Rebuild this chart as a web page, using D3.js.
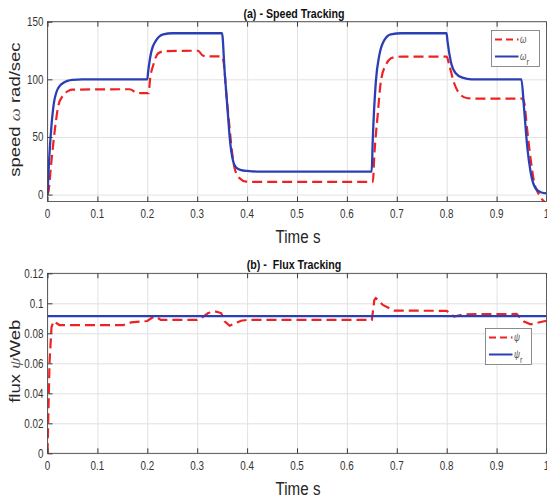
<!DOCTYPE html>
<html>
<head>
<meta charset="utf-8">
<script src="https://cdn.jsdelivr.net/npm/d3@7"></script>
<style>
  html, body { margin: 0; padding: 0; background: #fff; overflow: hidden; }
  text { font-family: "Liberation Sans", Arial, Helvetica, sans-serif; white-space: pre; }
</style>
</head>
<body>
<svg id="fig" width="547" height="499"></svg>
<script>
// ---- data -------------------------------------------------------------
const timeTicks = [0, 0.1, 0.2, 0.3, 0.4, 0.5, 0.6, 0.7, 0.8, 0.9, 1];
const speedTicks = [0, 50, 100, 150];
const fluxTicks = [0, 0.02, 0.04, 0.06, 0.08, 0.1, 0.12];

// reference speed ω_r  [time s, rad/sec]
const speedRef = [
  [0, 0], [0.003, 28], [0.008, 60], [0.013, 80], [0.018, 89], [0.025, 94.5],
  [0.032, 97], [0.04, 98.7], [0.05, 99.6], [0.07, 100], [0.2, 100],
  [0.2017, 106.6], [0.208, 124], [0.218, 134], [0.232, 139], [0.25, 140],
  [0.3497, 140], [0.355, 106.6], [0.3617, 69], [0.365, 50], [0.372, 29],
  [0.378, 23.5], [0.388, 21.2], [0.4, 20.5], [0.42, 20], [0.6497, 20],
  [0.6517, 46], [0.658, 98], [0.665, 121], [0.675, 134], [0.688, 139],
  [0.71, 140], [0.7997, 140], [0.8017, 132.7], [0.8083, 115.3], [0.818, 105.3],
  [0.8317, 101.5], [0.85, 100], [0.9497, 100], [0.955, 74.9], [0.9617, 40.2],
  [0.968, 20], [0.978, 5.5], [0.99, 1.8], [1.0, 1.0]
];

// measured speed ω  [time s, rad/sec]
const speedActual = [
  [0, 0], [0.002, 2.6], [0.007, 25], [0.012, 46], [0.017, 64], [0.022, 77.8],
  [0.032, 86.4], [0.042, 90], [0.05, 91], [0.165, 91.4], [0.175, 89],
  [0.182, 88], [0.203, 88], [0.205, 98], [0.212, 112.5], [0.222, 122.6],
  [0.235, 124.5], [0.302, 124.8], [0.31, 121], [0.318, 120], [0.35, 119.8],
  [0.3537, 112.5], [0.358, 89.3], [0.3637, 63.3], [0.3697, 37.3], [0.375, 22.9],
  [0.385, 14.2], [0.398, 11.3], [0.41, 11], [0.652, 11], [0.655, 34.4],
  [0.6617, 69], [0.668, 98], [0.678, 112.5], [0.6917, 118.8], [0.71, 119.7],
  [0.8, 119.7], [0.805, 112.5], [0.815, 96.6], [0.825, 87.9], [0.8417, 83.6],
  [0.86, 83.3], [0.952, 83.3], [0.955, 80.6], [0.9617, 54.6], [0.968, 31.5],
  [0.975, 11.3], [0.985, 0], [0.995, -6], [1.0, -8]
];

// reference flux ψ_r  [time s, Web]
const fluxRef = [[0, 0.0915], [1, 0.0915]];

// estimated flux ψ  [time s, Web]
const fluxActual = [
  [0, 0], [0.004, 0.06], [0.008, 0.084], [0.012, 0.088], [0.024, 0.0855],
  [0.152, 0.0855], [0.168, 0.0873], [0.2, 0.0882], [0.21, 0.0905], [0.218, 0.091],
  [0.227, 0.0889], [0.3, 0.0889], [0.308, 0.0902], [0.322, 0.0935], [0.335, 0.0947],
  [0.348, 0.0935], [0.355, 0.0879], [0.365, 0.085], [0.388, 0.0884], [0.4, 0.0889],
  [0.65, 0.0889], [0.655, 0.1022], [0.658, 0.1035], [0.672, 0.0989], [0.695, 0.0951],
  [0.8, 0.095], [0.815, 0.0911], [0.835, 0.0927], [0.94, 0.0929], [0.955, 0.0878],
  [0.968, 0.086], [1.0, 0.0884]
];

// ---- styling ----------------------------------------------------------
const RED = "#ee2222";
const BLUE = "#2b3fb5";
const AXIS = "#3a3a3a";
const GRID = "#e2e2e2";
const SQ = 0.82;           // condensed text width

const svg = d3.select("#fig");
const left = 47.5, right = 546.5;

const x = d3.scaleLinear().domain([0, 1]).range([left, right]);

function label(g, txt, px, py, opts) {
  const t = g.append("text")
    .attr("transform", `translate(${px},${py}) scale(${SQ},1)` + (opts.rotate ? " rotate(-90)" : ""))
    .attr("text-anchor", opts.anchor || "middle")
    .attr("font-size", opts.size)
    .attr("font-weight", opts.weight || "normal")
    .attr("fill", opts.fill || "#262626");
  if (Array.isArray(txt)) {
    txt.forEach(p => {
      const s = t.append("tspan").text(p.t);
      if (p.italic) s.attr("font-style", "italic").attr("font-family", "'Liberation Serif', serif");
      if (p.fill) s.attr("fill", p.fill);
    });
  } else t.text(txt);
  return t;
}

const fmt = v => String(+v.toFixed(2));

function panel(cfg) {
  const g = svg.append("g");
  const y = d3.scaleLinear().domain(cfg.yDomain).range([cfg.bottom, cfg.top]);
  const clipId = "clip-" + cfg.id;
  svg.append("clipPath").attr("id", clipId).append("rect")
    .attr("x", left).attr("y", cfg.top).attr("width", right - left).attr("height", cfg.bottom - cfg.top);

  // white plot background
  g.append("rect").attr("x", left).attr("y", cfg.top)
    .attr("width", right - left).attr("height", cfg.bottom - cfg.top).attr("fill", "#fff");

  // grid
  const gx = d3.axisBottom(x).tickValues(timeTicks).tickSize(-(cfg.bottom - cfg.top)).tickFormat("");
  g.append("g").attr("transform", `translate(0,${cfg.bottom})`).call(gx)
    .call(s => s.select(".domain").remove())
    .call(s => s.selectAll("line").attr("stroke", GRID).attr("stroke-width", 1));
  const gy = d3.axisLeft(y).tickValues(cfg.yTicks).tickSize(-(right - left)).tickFormat("");
  g.append("g").attr("transform", `translate(${left},0)`).call(gy)
    .call(s => s.select(".domain").remove())
    .call(s => s.selectAll("line").attr("stroke", GRID).attr("stroke-width", 1));

  // series
  const lineGen = curve => d3.line().x(d => x(d[0])).y(d => y(d[1])).curve(curve);
  const lines = g.append("g").attr("clip-path", `url(#${clipId})`);
  lines.append("path").datum(cfg.actual)
    .attr("d", lineGen(cfg.actualCurve)).attr("fill", "none")
    .attr("stroke", RED).attr("stroke-width", 2.2).attr("stroke-dasharray", "10,5");
  lines.append("path").datum(cfg.ref)
    .attr("d", lineGen(cfg.refCurve)).attr("fill", "none")
    .attr("stroke", BLUE).attr("stroke-width", 2.3);

  // axes (inward ticks, boxed)
  const ax = d3.axisBottom(x).tickValues(timeTicks).tickSize(-5).tickFormat("");
  g.append("g").attr("transform", `translate(0,${cfg.bottom})`).call(ax)
    .call(s => s.select(".domain").remove())
    .call(s => s.selectAll("line").attr("stroke", AXIS));
  const axTop = d3.axisTop(x).tickValues(timeTicks).tickSize(-5).tickFormat("");
  g.append("g").attr("transform", `translate(0,${cfg.top})`).call(axTop)
    .call(s => s.select(".domain").remove())
    .call(s => s.selectAll("line").attr("stroke", AXIS));
  const ay = d3.axisLeft(y).tickValues(cfg.yTicks).tickSize(-5).tickFormat("");
  g.append("g").attr("transform", `translate(${left},0)`).call(ay)
    .call(s => s.select(".domain").remove())
    .call(s => s.selectAll("line").attr("stroke", AXIS));
  g.append("rect").attr("x", left).attr("y", cfg.top)
    .attr("width", right - left).attr("height", cfg.bottom - cfg.top)
    .attr("fill", "none").attr("stroke", AXIS).attr("stroke-width", 0.8);

  // tick labels
  timeTicks.forEach(t => label(g, fmt(t), x(t), cfg.bottom + 16.5, { size: 12, fill: "#333" }));
  cfg.yTicks.forEach(v => label(g, fmt(v), left - 4, y(v) + 4.3, { size: 12, anchor: "end", fill: "#333" }));

  // titles and axis labels
  label(g, cfg.title, 294, cfg.top - 4, { size: 13, weight: "bold", fill: "#111" });
  label(g, "Time s", 298, cfg.bottom + 41.5, { size: 18.5, fill: "#262626" });
  label(g, cfg.ylabel, 20, (cfg.top + cfg.bottom) / 2 - 2, { size: 18.5, rotate: true, fill: "#262626" });

  // legend
  const L = cfg.legend;
  g.append("rect").attr("x", L.x).attr("y", L.y).attr("width", L.w).attr("height", L.h)
    .attr("fill", "#fff").attr("stroke", "#707070").attr("stroke-width", 0.8);
  const rows = [
    { color: RED, dash: "7,4", sym: cfg.sym, sub: null },
    { color: BLUE, dash: null, sym: cfg.sym, sub: "r" }
  ];
  rows.forEach((r, i) => {
    const ly = L.y + 9 + i * 17;
    const ln = g.append("line").attr("x1", L.x + 3.5).attr("x2", L.x + 27)
      .attr("y1", ly).attr("y2", ly).attr("stroke", r.color).attr("stroke-width", 2);
    if (r.dash) ln.attr("stroke-dasharray", r.dash);
    const tx = g.append("text")
      .attr("transform", `translate(${L.x + 28.5},${ly + 3}) scale(${SQ},1)`)
      .attr("font-size", 10).attr("fill", "#555")
      .attr("font-family", "'Liberation Serif', serif").attr("font-style", "italic");
    tx.append("tspan").text(r.sym);
    if (r.sub) tx.append("tspan").attr("dy", 5).attr("font-size", 9)
      .attr("font-style", "normal").attr("font-family", "'Liberation Sans', sans-serif").text(r.sub);
  });
}

panel({
  id: "speed", top: 21.7, bottom: 201.5, yDomain: [-6, 150], yTicks: speedTicks,
  ref: speedRef, actual: speedActual,
  refCurve: d3.curveMonotoneX, actualCurve: d3.curveMonotoneX,
  title: "(a) - Speed Tracking",
  ylabel: [{ t: "speed " }, { t: "ω", italic: true, fill: "#555" }, { t: " rad/sec" }],
  sym: "ω",
  legend: { x: 491.5, y: 30.5, w: 48, h: 36 }
});

panel({
  id: "flux", top: 273.3, bottom: 453.3, yDomain: [0, 0.12], yTicks: fluxTicks,
  ref: fluxRef, actual: fluxActual,
  refCurve: d3.curveLinear, actualCurve: d3.curveLinear,
  title: "(b) -  Flux Tracking",
  ylabel: [{ t: "flux " }, { t: "ψ", italic: true, fill: "#555" }, { t: "Web" }],
  sym: "ψ",
  legend: { x: 485.5, y: 328.5, w: 46, h: 36 }
});
</script>
</body>
</html>
